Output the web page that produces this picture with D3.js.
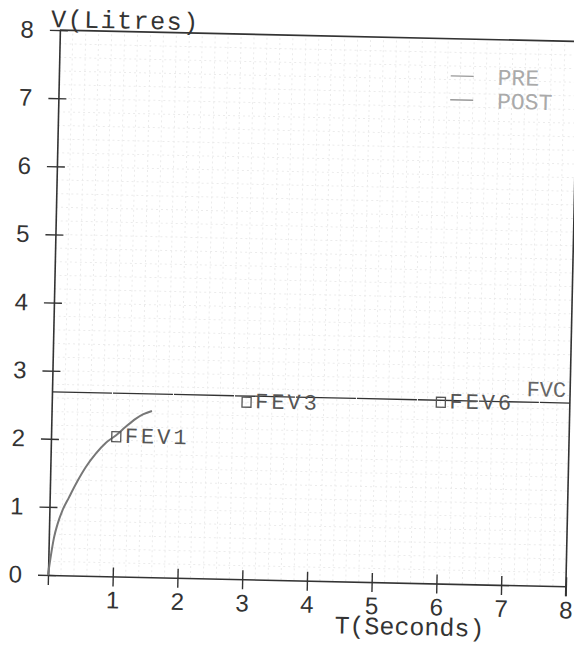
<!DOCTYPE html>
<html>
<head>
<meta charset="utf-8">
<script src="https://cdn.jsdelivr.net/npm/d3@7"></script>
<style>
  body { margin: 0; background: #fff; }
  svg { display: block; }
</style>
</head>
<body>
<svg id="chart"></svg>
<script>
// Spirometry volume-time chart (scanned printout, slightly tilted)

// Axis ticks
const tTicks = [0, 1, 2, 3, 4, 5, 6, 7, 8];
const vTicks = [0, 1, 2, 3, 4, 5, 6, 7, 8];

// PRE curve (seconds, litres)
const curveT = [0, 0.04, 0.08, 0.13, 0.2, 0.3, 0.42, 0.55, 0.7, 0.85, 1.0, 1.15, 1.3, 1.42, 1.55];
const curveV = [0, 0.3, 0.55, 0.75, 0.95, 1.15, 1.38, 1.6, 1.8, 1.96, 2.07, 2.2, 2.32, 2.39, 2.44];

// FEV markers
const markerNames = ["FEV1", "FEV3", "FEV6"];
const markerT = [1, 3, 6];
const markerV = [2.05, 2.6, 2.66];

// FVC level
const fvcValue = 2.69;

// Legend
const legendNames = ["PRE", "POST"];

const config = {
  width: 574,
  height: 645,
  originX: 48,
  originY: 575,
  plotW: 518,
  plotH: 545,
  tilt: 1.25
};

const svg = d3.select("#chart")
  .attr("width", config.width)
  .attr("height", config.height);

const x = d3.scaleLinear().domain([0, 8]).range([0, config.plotW]);
const y = d3.scaleLinear().domain([0, 8]).range([0, -config.plotH]);

// everything lives in a tilted group with origin at (0,0) data point
const g = svg.append("g")
  .attr("transform", `translate(${config.originX},${config.originY}) rotate(${config.tilt})`);

// faint dotted background grid
const gridVals = d3.range(0.2, 8, 0.2);
g.append("g").selectAll("line.gx")
  .data(gridVals)
  .join("line")
  .attr("x1", d => x(d)).attr("x2", d => x(d))
  .attr("y1", y(0)).attr("y2", y(8))
  .attr("stroke", "#ebebeb")
  .attr("stroke-width", 1)
  .attr("stroke-dasharray", "2,3");
g.append("g").selectAll("line.gy")
  .data(gridVals)
  .join("line")
  .attr("y1", d => y(d)).attr("y2", d => y(d))
  .attr("x1", x(0)).attr("x2", x(8))
  .attr("stroke", "#ebebeb")
  .attr("stroke-width", 1)
  .attr("stroke-dasharray", "2,3");

const tickFont = "Liberation Sans, Arial, sans-serif";
const monoFont = "Liberation Mono, Courier New, monospace";

// x axis
const xAxis = d3.axisBottom(x)
  .tickValues(tTicks)
  .tickSize(10)
  .tickSizeOuter(0)
  .tickPadding(5)
  .tickFormat(d => d === 0 ? "" : d);
const xAxisG = g.append("g").call(xAxis);
xAxisG.select(".domain").attr("stroke", "#333").attr("stroke-width", 1.6);
xAxisG.selectAll(".tick line").attr("y1", -9).attr("stroke", "#333").attr("stroke-width", 1.4);
xAxisG.selectAll(".tick text")
  .attr("font-family", tickFont)
  .attr("font-size", 24)
  .attr("fill", "#333");

// y axis
const yAxis = d3.axisLeft(y)
  .tickValues(vTicks)
  .tickSize(10)
  .tickSizeOuter(0)
  .tickPadding(16);
const yAxisG = g.append("g").call(yAxis);
yAxisG.select(".domain").attr("stroke", "#333").attr("stroke-width", 1.6);
yAxisG.selectAll(".tick line").attr("x1", 8).attr("x2", -10).attr("stroke", "#333").attr("stroke-width", 1.4);
yAxisG.selectAll(".tick text")
  .attr("font-family", tickFont)
  .attr("font-size", 24)
  .attr("fill", "#333");

// top and right frame
g.append("line")
  .attr("x1", x(0)).attr("x2", x(8) + 20)
  .attr("y1", y(8)).attr("y2", y(8))
  .attr("stroke", "#333").attr("stroke-width", 1.6);
g.append("line")
  .attr("x1", x(8)).attr("x2", x(8))
  .attr("y1", y(0) + 10).attr("y2", y(8))
  .attr("stroke", "#333").attr("stroke-width", 1.6);

// axis titles
g.append("text")
  .attr("x", x(0) - 9)
  .attr("y", y(8) - 3)
  .attr("font-family", monoFont)
  .attr("font-size", 25)
  .attr("letter-spacing", 1.5)
  .attr("fill", "#333")
  .text("V(Litres)");
g.append("text")
  .attr("x", x(5.6))
  .attr("y", 52)
  .attr("text-anchor", "middle")
  .attr("font-family", monoFont)
  .attr("font-size", 25)
  .attr("fill", "#333")
  .text("T(Seconds)");

// FVC line
g.append("line")
  .attr("x1", x(0)).attr("x2", x(8))
  .attr("y1", y(fvcValue)).attr("y2", y(fvcValue))
  .attr("stroke", "#333")
  .attr("stroke-width", 1.3)
  .attr("stroke-dasharray", "60,1");
g.append("text")
  .attr("x", x(8) - 4)
  .attr("y", y(fvcValue) - 6)
  .attr("text-anchor", "end")
  .attr("font-family", monoFont)
  .attr("font-size", 22)
  .attr("fill", "#666")
  .text("FVC");

// PRE curve
const line = d3.line()
  .x((d, i) => x(curveT[i]))
  .y((d, i) => y(curveV[i]))
  .curve(d3.curveMonotoneX);
g.append("path")
  .datum(curveV)
  .attr("d", line)
  .attr("fill", "none")
  .attr("stroke", "#777")
  .attr("stroke-width", 2);

// FEV markers: small square + label
const markers = g.append("g").selectAll("g")
  .data(markerNames)
  .join("g")
  .attr("transform", (d, i) => `translate(${x(markerT[i])},${y(markerV[i])})`);
markers.append("rect")
  .attr("x", -4).attr("y", -5)
  .attr("width", 9).attr("height", 10)
  .attr("fill", "none")
  .attr("stroke", "#555")
  .attr("stroke-width", 1.3);
markers.append("text")
  .attr("x", 9)
  .attr("y", 6)
  .attr("font-family", monoFont)
  .attr("font-size", 22)
  .attr("letter-spacing", 3)
  .attr("fill", "#555")
  .text(d => d);

// legend (top right)
const legend = g.append("g").selectAll("g")
  .data(legendNames)
  .join("g")
  .attr("transform", (d, i) => `translate(${x(6.05)},${y(7.38 - i * 0.35)})`);
legend.append("line")
  .attr("x1", 0).attr("x2", 23)
  .attr("y1", -5).attr("y2", -5)
  .attr("stroke", "#999")
  .attr("stroke-width", 1.3);
legend.append("text")
  .attr("x", 47)
  .attr("y", 3)
  .attr("font-family", monoFont)
  .attr("font-size", 23)
  .attr("fill", "#aaa")
  .text(d => d);
</script>
</body>
</html>
